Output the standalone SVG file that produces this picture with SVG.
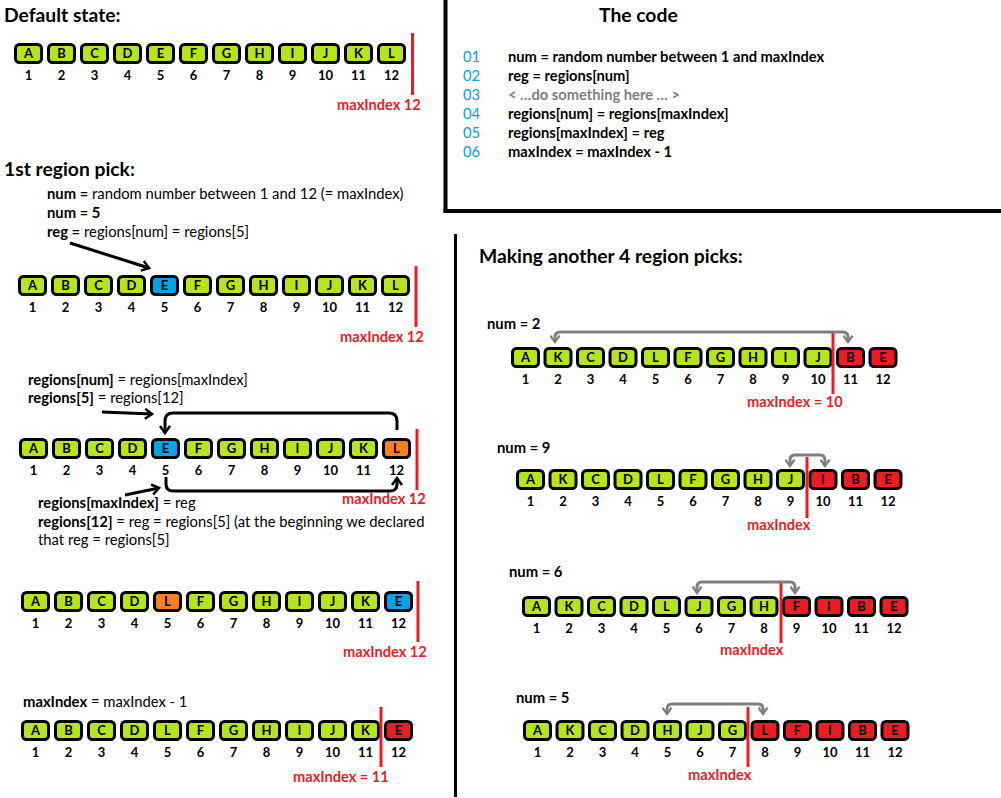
<svg xmlns="http://www.w3.org/2000/svg" width="1001" height="798" viewBox="0 0 1001 798">
<style>
text{font-family:Lato,"Liberation Sans",sans-serif;}
.h{font-size:19.3px;font-weight:bold;fill:#000}
.t{font-size:14.8px;fill:#000}
.b{font-weight:bold}
.cn{font-size:14.7px;fill:#00a2e8}
.cd{font-size:14.7px;font-weight:bold;fill:#000}
.gr{fill:#7f7f7f}
.bx{stroke:#000;stroke-width:3}
.g{fill:#b5e61d}.bl{fill:#00a2e8}.o{fill:#ff7f27}.r{fill:#ed1c24}
.L{font-size:13px;font-weight:bold;text-anchor:middle;fill:#000}
.n{font-size:13px;font-weight:bold;text-anchor:middle;fill:#000}
.rl{stroke:#ed1c24;stroke-width:3}
.rt{font-size:14.6px;font-weight:bold;fill:#ed1c24}
.div{stroke:#000;stroke-width:4}
.ka{fill:none;stroke:#000;stroke-width:3}
.ga{fill:none;stroke:#7f7f7f;stroke-width:3}
</style>
<defs>
<marker id="mk" viewBox="0 0 12 12" refX="10" refY="6" markerWidth="12" markerHeight="12" markerUnits="userSpaceOnUse" orient="auto-start-reverse"><path d="M3,1 L10,6 L3,11" fill="none" stroke="#000" stroke-width="2.5"/></marker>
<marker id="mg" viewBox="0 0 12 12" refX="10" refY="6" markerWidth="11" markerHeight="11" markerUnits="userSpaceOnUse" orient="auto-start-reverse"><path d="M3,1 L10,6 L3,11" fill="none" stroke="#7f7f7f" stroke-width="2.5"/></marker>
</defs>
<rect width="1001" height="798" fill="#fff"/>

<g id="dividers">
<line class="div" x1="445.5" y1="0" x2="445.5" y2="213"/>
<line class="div" x1="443.5" y1="211" x2="1001" y2="211"/>
<line class="div" x1="455.5" y1="234" x2="455.5" y2="797" style="stroke-width:3"/>
</g>

<g id="headings">
<text class="h" x="4" y="22">Default state:</text>
<text class="h" x="4" y="176">1st region pick:</text>
<text class="h" x="599" y="22">The code</text>
<text class="h" x="479" y="263">Making another 4 region picks:</text>
</g>

<g id="code">
<text class="cn" x="463" y="62">01</text><text class="cd" x="508" y="62">num = random number between 1 and maxIndex</text>
<text class="cn" x="463" y="81">02</text><text class="cd" x="508" y="81">reg = regions[num]</text>
<text class="cn" x="463" y="100">03</text><text class="cd gr" x="508" y="100">&lt; …do something here … &gt;</text>
<text class="cn" x="463" y="119">04</text><text class="cd" x="508" y="119">regions[num] = regions[maxIndex]</text>
<text class="cn" x="463" y="138">05</text><text class="cd" x="508" y="138">regions[maxIndex] = reg</text>
<text class="cn" x="463" y="157">06</text><text class="cd" x="508" y="157">maxIndex = maxIndex - 1</text>
</g>

<g id="notes">
<text class="t" x="47" y="199"><tspan class="b">num =</tspan> random number between 1 and 12 (= maxIndex)</text>
<text class="t b" x="47" y="218">num = 5</text>
<text class="t" x="47" y="237"><tspan class="b">reg =</tspan> regions[num] = regions[5]</text>
<text class="t" x="28" y="385"><tspan class="b">regions[num]</tspan> = regions[maxIndex]</text>
<text class="t" x="28" y="403"><tspan class="b">regions[5]</tspan> = regions[12]</text>
<text class="t" x="38" y="508"><tspan class="b">regions[maxIndex]</tspan> = reg</text>
<text class="t" x="38" y="527"><tspan class="b">regions[12]</tspan> = reg = regions[5] (at the beginning we declared</text>
<text class="t" x="38" y="545">that reg = regions[5]</text>
<text class="t" x="23" y="707"><tspan class="b">maxIndex</tspan> = maxIndex - 1</text>
<text class="t b" x="487" y="329">num = 2</text>
<text class="t b" x="497" y="453">num = 9</text>
<text class="t b" x="509" y="577">num = 6</text>
<text class="t b" x="516" y="703">num = 5</text>
</g>

<g id="row-default" transform="translate(14,43)">
<rect class="bx g" x="1.5" y="1.5" width="26" height="18" rx="4"/><text class="L" x="14.5" y="15">A</text><text class="n" x="14.5" y="37">1</text>
<rect class="bx g" x="34.5" y="1.5" width="26" height="18" rx="4"/><text class="L" x="47.5" y="15">B</text><text class="n" x="47.5" y="37">2</text>
<rect class="bx g" x="67.5" y="1.5" width="26" height="18" rx="4"/><text class="L" x="80.5" y="15">C</text><text class="n" x="80.5" y="37">3</text>
<rect class="bx g" x="100.5" y="1.5" width="26" height="18" rx="4"/><text class="L" x="113.5" y="15">D</text><text class="n" x="113.5" y="37">4</text>
<rect class="bx g" x="133.5" y="1.5" width="26" height="18" rx="4"/><text class="L" x="146.5" y="15">E</text><text class="n" x="146.5" y="37">5</text>
<rect class="bx g" x="166.5" y="1.5" width="26" height="18" rx="4"/><text class="L" x="179.5" y="15">F</text><text class="n" x="179.5" y="37">6</text>
<rect class="bx g" x="199.5" y="1.5" width="26" height="18" rx="4"/><text class="L" x="212.5" y="15">G</text><text class="n" x="212.5" y="37">7</text>
<rect class="bx g" x="232.5" y="1.5" width="26" height="18" rx="4"/><text class="L" x="245.5" y="15">H</text><text class="n" x="245.5" y="37">8</text>
<rect class="bx g" x="265.5" y="1.5" width="26" height="18" rx="4"/><text class="L" x="278.5" y="15">I</text><text class="n" x="278.5" y="37">9</text>
<rect class="bx g" x="298.5" y="1.5" width="26" height="18" rx="4"/><text class="L" x="311.5" y="15">J</text><text class="n" x="311.5" y="37">10</text>
<rect class="bx g" x="331.5" y="1.5" width="26" height="18" rx="4"/><text class="L" x="344.5" y="15">K</text><text class="n" x="344.5" y="37">11</text>
<rect class="bx g" x="364.5" y="1.5" width="26" height="18" rx="4"/><text class="L" x="377.5" y="15">L</text><text class="n" x="377.5" y="37">12</text>
</g>

<g id="row-pick1" transform="translate(18,275)">
<rect class="bx g" x="1.5" y="1.5" width="26" height="18" rx="4"/><text class="L" x="14.5" y="15">A</text><text class="n" x="14.5" y="37">1</text>
<rect class="bx g" x="34.5" y="1.5" width="26" height="18" rx="4"/><text class="L" x="47.5" y="15">B</text><text class="n" x="47.5" y="37">2</text>
<rect class="bx g" x="67.5" y="1.5" width="26" height="18" rx="4"/><text class="L" x="80.5" y="15">C</text><text class="n" x="80.5" y="37">3</text>
<rect class="bx g" x="100.5" y="1.5" width="26" height="18" rx="4"/><text class="L" x="113.5" y="15">D</text><text class="n" x="113.5" y="37">4</text>
<rect class="bx bl" x="133.5" y="1.5" width="26" height="18" rx="4"/><text class="L" x="146.5" y="15">E</text><text class="n" x="146.5" y="37">5</text>
<rect class="bx g" x="166.5" y="1.5" width="26" height="18" rx="4"/><text class="L" x="179.5" y="15">F</text><text class="n" x="179.5" y="37">6</text>
<rect class="bx g" x="199.5" y="1.5" width="26" height="18" rx="4"/><text class="L" x="212.5" y="15">G</text><text class="n" x="212.5" y="37">7</text>
<rect class="bx g" x="232.5" y="1.5" width="26" height="18" rx="4"/><text class="L" x="245.5" y="15">H</text><text class="n" x="245.5" y="37">8</text>
<rect class="bx g" x="265.5" y="1.5" width="26" height="18" rx="4"/><text class="L" x="278.5" y="15">I</text><text class="n" x="278.5" y="37">9</text>
<rect class="bx g" x="298.5" y="1.5" width="26" height="18" rx="4"/><text class="L" x="311.5" y="15">J</text><text class="n" x="311.5" y="37">10</text>
<rect class="bx g" x="331.5" y="1.5" width="26" height="18" rx="4"/><text class="L" x="344.5" y="15">K</text><text class="n" x="344.5" y="37">11</text>
<rect class="bx g" x="364.5" y="1.5" width="26" height="18" rx="4"/><text class="L" x="377.5" y="15">L</text><text class="n" x="377.5" y="37">12</text>
</g>

<g id="row-swap" transform="translate(19,438)">
<rect class="bx g" x="1.5" y="1.5" width="26" height="18" rx="4"/><text class="L" x="14.5" y="15">A</text><text class="n" x="14.5" y="37">1</text>
<rect class="bx g" x="34.5" y="1.5" width="26" height="18" rx="4"/><text class="L" x="47.5" y="15">B</text><text class="n" x="47.5" y="37">2</text>
<rect class="bx g" x="67.5" y="1.5" width="26" height="18" rx="4"/><text class="L" x="80.5" y="15">C</text><text class="n" x="80.5" y="37">3</text>
<rect class="bx g" x="100.5" y="1.5" width="26" height="18" rx="4"/><text class="L" x="113.5" y="15">D</text><text class="n" x="113.5" y="37">4</text>
<rect class="bx bl" x="133.5" y="1.5" width="26" height="18" rx="4"/><text class="L" x="146.5" y="15">E</text><text class="n" x="146.5" y="37">5</text>
<rect class="bx g" x="166.5" y="1.5" width="26" height="18" rx="4"/><text class="L" x="179.5" y="15">F</text><text class="n" x="179.5" y="37">6</text>
<rect class="bx g" x="199.5" y="1.5" width="26" height="18" rx="4"/><text class="L" x="212.5" y="15">G</text><text class="n" x="212.5" y="37">7</text>
<rect class="bx g" x="232.5" y="1.5" width="26" height="18" rx="4"/><text class="L" x="245.5" y="15">H</text><text class="n" x="245.5" y="37">8</text>
<rect class="bx g" x="265.5" y="1.5" width="26" height="18" rx="4"/><text class="L" x="278.5" y="15">I</text><text class="n" x="278.5" y="37">9</text>
<rect class="bx g" x="298.5" y="1.5" width="26" height="18" rx="4"/><text class="L" x="311.5" y="15">J</text><text class="n" x="311.5" y="37">10</text>
<rect class="bx g" x="331.5" y="1.5" width="26" height="18" rx="4"/><text class="L" x="344.5" y="15">K</text><text class="n" x="344.5" y="37">11</text>
<rect class="bx o" x="364.5" y="1.5" width="26" height="18" rx="4"/><text class="L" x="377.5" y="15">L</text><text class="n" x="377.5" y="37">12</text>
</g>

<g id="row-swapped" transform="translate(21,591)">
<rect class="bx g" x="1.5" y="1.5" width="26" height="18" rx="4"/><text class="L" x="14.5" y="15">A</text><text class="n" x="14.5" y="37">1</text>
<rect class="bx g" x="34.5" y="1.5" width="26" height="18" rx="4"/><text class="L" x="47.5" y="15">B</text><text class="n" x="47.5" y="37">2</text>
<rect class="bx g" x="67.5" y="1.5" width="26" height="18" rx="4"/><text class="L" x="80.5" y="15">C</text><text class="n" x="80.5" y="37">3</text>
<rect class="bx g" x="100.5" y="1.5" width="26" height="18" rx="4"/><text class="L" x="113.5" y="15">D</text><text class="n" x="113.5" y="37">4</text>
<rect class="bx o" x="133.5" y="1.5" width="26" height="18" rx="4"/><text class="L" x="146.5" y="15">L</text><text class="n" x="146.5" y="37">5</text>
<rect class="bx g" x="166.5" y="1.5" width="26" height="18" rx="4"/><text class="L" x="179.5" y="15">F</text><text class="n" x="179.5" y="37">6</text>
<rect class="bx g" x="199.5" y="1.5" width="26" height="18" rx="4"/><text class="L" x="212.5" y="15">G</text><text class="n" x="212.5" y="37">7</text>
<rect class="bx g" x="232.5" y="1.5" width="26" height="18" rx="4"/><text class="L" x="245.5" y="15">H</text><text class="n" x="245.5" y="37">8</text>
<rect class="bx g" x="265.5" y="1.5" width="26" height="18" rx="4"/><text class="L" x="278.5" y="15">I</text><text class="n" x="278.5" y="37">9</text>
<rect class="bx g" x="298.5" y="1.5" width="26" height="18" rx="4"/><text class="L" x="311.5" y="15">J</text><text class="n" x="311.5" y="37">10</text>
<rect class="bx g" x="331.5" y="1.5" width="26" height="18" rx="4"/><text class="L" x="344.5" y="15">K</text><text class="n" x="344.5" y="37">11</text>
<rect class="bx bl" x="364.5" y="1.5" width="26" height="18" rx="4"/><text class="L" x="377.5" y="15">E</text><text class="n" x="377.5" y="37">12</text>
</g>

<g id="row-decrement" transform="translate(21,720)">
<rect class="bx g" x="1.5" y="1.5" width="26" height="18" rx="4"/><text class="L" x="14.5" y="15">A</text><text class="n" x="14.5" y="37">1</text>
<rect class="bx g" x="34.5" y="1.5" width="26" height="18" rx="4"/><text class="L" x="47.5" y="15">B</text><text class="n" x="47.5" y="37">2</text>
<rect class="bx g" x="67.5" y="1.5" width="26" height="18" rx="4"/><text class="L" x="80.5" y="15">C</text><text class="n" x="80.5" y="37">3</text>
<rect class="bx g" x="100.5" y="1.5" width="26" height="18" rx="4"/><text class="L" x="113.5" y="15">D</text><text class="n" x="113.5" y="37">4</text>
<rect class="bx g" x="133.5" y="1.5" width="26" height="18" rx="4"/><text class="L" x="146.5" y="15">L</text><text class="n" x="146.5" y="37">5</text>
<rect class="bx g" x="166.5" y="1.5" width="26" height="18" rx="4"/><text class="L" x="179.5" y="15">F</text><text class="n" x="179.5" y="37">6</text>
<rect class="bx g" x="199.5" y="1.5" width="26" height="18" rx="4"/><text class="L" x="212.5" y="15">G</text><text class="n" x="212.5" y="37">7</text>
<rect class="bx g" x="232.5" y="1.5" width="26" height="18" rx="4"/><text class="L" x="245.5" y="15">H</text><text class="n" x="245.5" y="37">8</text>
<rect class="bx g" x="265.5" y="1.5" width="26" height="18" rx="4"/><text class="L" x="278.5" y="15">I</text><text class="n" x="278.5" y="37">9</text>
<rect class="bx g" x="298.5" y="1.5" width="26" height="18" rx="4"/><text class="L" x="311.5" y="15">J</text><text class="n" x="311.5" y="37">10</text>
<rect class="bx g" x="331.5" y="1.5" width="26" height="18" rx="4"/><text class="L" x="344.5" y="15">K</text><text class="n" x="344.5" y="37">11</text>
<rect class="bx r" x="364.5" y="1.5" width="26" height="18" rx="4"/><text class="L" x="377.5" y="15">E</text><text class="n" x="377.5" y="37">12</text>
</g>

<g id="row-pick2" transform="translate(511,347)">
<rect class="bx g" x="1.5" y="1.5" width="26" height="18" rx="4"/><text class="L" x="14.5" y="15">A</text><text class="n" x="14.5" y="37">1</text>
<rect class="bx g" x="34" y="1.5" width="26" height="18" rx="4"/><text class="L" x="47" y="15">K</text><text class="n" x="47" y="37">2</text>
<rect class="bx g" x="66.5" y="1.5" width="26" height="18" rx="4"/><text class="L" x="79.5" y="15">C</text><text class="n" x="79.5" y="37">3</text>
<rect class="bx g" x="99" y="1.5" width="26" height="18" rx="4"/><text class="L" x="112" y="15">D</text><text class="n" x="112" y="37">4</text>
<rect class="bx g" x="131.5" y="1.5" width="26" height="18" rx="4"/><text class="L" x="144.5" y="15">L</text><text class="n" x="144.5" y="37">5</text>
<rect class="bx g" x="164" y="1.5" width="26" height="18" rx="4"/><text class="L" x="177" y="15">F</text><text class="n" x="177" y="37">6</text>
<rect class="bx g" x="196.5" y="1.5" width="26" height="18" rx="4"/><text class="L" x="209.5" y="15">G</text><text class="n" x="209.5" y="37">7</text>
<rect class="bx g" x="229" y="1.5" width="26" height="18" rx="4"/><text class="L" x="242" y="15">H</text><text class="n" x="242" y="37">8</text>
<rect class="bx g" x="261.5" y="1.5" width="26" height="18" rx="4"/><text class="L" x="274.5" y="15">I</text><text class="n" x="274.5" y="37">9</text>
<rect class="bx g" x="294" y="1.5" width="26" height="18" rx="4"/><text class="L" x="307" y="15">J</text><text class="n" x="307" y="37">10</text>
<rect class="bx r" x="326.5" y="1.5" width="26" height="18" rx="4"/><text class="L" x="339.5" y="15">B</text><text class="n" x="339.5" y="37">11</text>
<rect class="bx r" x="359" y="1.5" width="26" height="18" rx="4"/><text class="L" x="372" y="15">E</text><text class="n" x="372" y="37">12</text>
</g>

<g id="row-pick3" transform="translate(516,469)">
<rect class="bx g" x="1.5" y="1.5" width="26" height="18" rx="4"/><text class="L" x="14.5" y="15">A</text><text class="n" x="14.5" y="37">1</text>
<rect class="bx g" x="34" y="1.5" width="26" height="18" rx="4"/><text class="L" x="47" y="15">K</text><text class="n" x="47" y="37">2</text>
<rect class="bx g" x="66.5" y="1.5" width="26" height="18" rx="4"/><text class="L" x="79.5" y="15">C</text><text class="n" x="79.5" y="37">3</text>
<rect class="bx g" x="99" y="1.5" width="26" height="18" rx="4"/><text class="L" x="112" y="15">D</text><text class="n" x="112" y="37">4</text>
<rect class="bx g" x="131.5" y="1.5" width="26" height="18" rx="4"/><text class="L" x="144.5" y="15">L</text><text class="n" x="144.5" y="37">5</text>
<rect class="bx g" x="164" y="1.5" width="26" height="18" rx="4"/><text class="L" x="177" y="15">F</text><text class="n" x="177" y="37">6</text>
<rect class="bx g" x="196.5" y="1.5" width="26" height="18" rx="4"/><text class="L" x="209.5" y="15">G</text><text class="n" x="209.5" y="37">7</text>
<rect class="bx g" x="229" y="1.5" width="26" height="18" rx="4"/><text class="L" x="242" y="15">H</text><text class="n" x="242" y="37">8</text>
<rect class="bx g" x="261.5" y="1.5" width="26" height="18" rx="4"/><text class="L" x="274.5" y="15">J</text><text class="n" x="274.5" y="37">9</text>
<rect class="bx r" x="294" y="1.5" width="26" height="18" rx="4"/><text class="L" x="307" y="15">I</text><text class="n" x="307" y="37">10</text>
<rect class="bx r" x="326.5" y="1.5" width="26" height="18" rx="4"/><text class="L" x="339.5" y="15">B</text><text class="n" x="339.5" y="37">11</text>
<rect class="bx r" x="359" y="1.5" width="26" height="18" rx="4"/><text class="L" x="372" y="15">E</text><text class="n" x="372" y="37">12</text>
</g>

<g id="row-pick4" transform="translate(522,596)">
<rect class="bx g" x="1.5" y="1.5" width="26" height="18" rx="4"/><text class="L" x="14.5" y="15">A</text><text class="n" x="14.5" y="37">1</text>
<rect class="bx g" x="34" y="1.5" width="26" height="18" rx="4"/><text class="L" x="47" y="15">K</text><text class="n" x="47" y="37">2</text>
<rect class="bx g" x="66.5" y="1.5" width="26" height="18" rx="4"/><text class="L" x="79.5" y="15">C</text><text class="n" x="79.5" y="37">3</text>
<rect class="bx g" x="99" y="1.5" width="26" height="18" rx="4"/><text class="L" x="112" y="15">D</text><text class="n" x="112" y="37">4</text>
<rect class="bx g" x="131.5" y="1.5" width="26" height="18" rx="4"/><text class="L" x="144.5" y="15">L</text><text class="n" x="144.5" y="37">5</text>
<rect class="bx g" x="164" y="1.5" width="26" height="18" rx="4"/><text class="L" x="177" y="15">J</text><text class="n" x="177" y="37">6</text>
<rect class="bx g" x="196.5" y="1.5" width="26" height="18" rx="4"/><text class="L" x="209.5" y="15">G</text><text class="n" x="209.5" y="37">7</text>
<rect class="bx g" x="229" y="1.5" width="26" height="18" rx="4"/><text class="L" x="242" y="15">H</text><text class="n" x="242" y="37">8</text>
<rect class="bx r" x="261.5" y="1.5" width="26" height="18" rx="4"/><text class="L" x="274.5" y="15">F</text><text class="n" x="274.5" y="37">9</text>
<rect class="bx r" x="294" y="1.5" width="26" height="18" rx="4"/><text class="L" x="307" y="15">I</text><text class="n" x="307" y="37">10</text>
<rect class="bx r" x="326.5" y="1.5" width="26" height="18" rx="4"/><text class="L" x="339.5" y="15">B</text><text class="n" x="339.5" y="37">11</text>
<rect class="bx r" x="359" y="1.5" width="26" height="18" rx="4"/><text class="L" x="372" y="15">E</text><text class="n" x="372" y="37">12</text>
</g>

<g id="row-pick5" transform="translate(523,720)">
<rect class="bx g" x="1.5" y="1.5" width="26" height="18" rx="4"/><text class="L" x="14.5" y="15">A</text><text class="n" x="14.5" y="37">1</text>
<rect class="bx g" x="34" y="1.5" width="26" height="18" rx="4"/><text class="L" x="47" y="15">K</text><text class="n" x="47" y="37">2</text>
<rect class="bx g" x="66.5" y="1.5" width="26" height="18" rx="4"/><text class="L" x="79.5" y="15">C</text><text class="n" x="79.5" y="37">3</text>
<rect class="bx g" x="99" y="1.5" width="26" height="18" rx="4"/><text class="L" x="112" y="15">D</text><text class="n" x="112" y="37">4</text>
<rect class="bx g" x="131.5" y="1.5" width="26" height="18" rx="4"/><text class="L" x="144.5" y="15">H</text><text class="n" x="144.5" y="37">5</text>
<rect class="bx g" x="164" y="1.5" width="26" height="18" rx="4"/><text class="L" x="177" y="15">J</text><text class="n" x="177" y="37">6</text>
<rect class="bx g" x="196.5" y="1.5" width="26" height="18" rx="4"/><text class="L" x="209.5" y="15">G</text><text class="n" x="209.5" y="37">7</text>
<rect class="bx r" x="229" y="1.5" width="26" height="18" rx="4"/><text class="L" x="242" y="15">L</text><text class="n" x="242" y="37">8</text>
<rect class="bx r" x="261.5" y="1.5" width="26" height="18" rx="4"/><text class="L" x="274.5" y="15">F</text><text class="n" x="274.5" y="37">9</text>
<rect class="bx r" x="294" y="1.5" width="26" height="18" rx="4"/><text class="L" x="307" y="15">I</text><text class="n" x="307" y="37">10</text>
<rect class="bx r" x="326.5" y="1.5" width="26" height="18" rx="4"/><text class="L" x="339.5" y="15">B</text><text class="n" x="339.5" y="37">11</text>
<rect class="bx r" x="359" y="1.5" width="26" height="18" rx="4"/><text class="L" x="372" y="15">E</text><text class="n" x="372" y="37">12</text>
</g>

<g id="maxindex-markers">
<line class="rl" x1="412.5" y1="33" x2="412.5" y2="95"/><text class="rt" x="337" y="110">maxIndex 12</text>
<line class="rl" x1="416" y1="266" x2="416" y2="327"/><text class="rt" x="340" y="342">maxIndex 12</text>
<line class="rl" x1="417" y1="429" x2="417" y2="490"/><text class="rt" x="342" y="504">maxIndex 12</text>
<line class="rl" x1="418" y1="581" x2="418" y2="642"/><text class="rt" x="343" y="657">maxIndex 12</text>
<line class="rl" x1="381" y1="707" x2="381" y2="767"/><text class="rt" x="293" y="782">maxIndex = 11</text>
<line class="rl" x1="833" y1="333" x2="833" y2="394"/><text class="rt" x="747" y="407">maxIndex = 10</text>
<line class="rl" x1="807" y1="457" x2="807" y2="518"/><text class="rt" x="747" y="530">maxIndex</text>
<line class="rl" x1="781" y1="582" x2="781" y2="643"/><text class="rt" x="720" y="655">maxIndex</text>
<line class="rl" x1="748" y1="707" x2="748" y2="767"/><text class="rt" x="688" y="780">maxIndex</text>
</g>

<g id="connectors">
<line class="ka" x1="70" y1="243" x2="149" y2="268" marker-end="url(#mk)"/>
<line class="ka" x1="102" y1="412" x2="152" y2="414" marker-end="url(#mk)"/>
<path class="ka" d="M397,430 V421 Q397,413 389,413 H173 Q165,413 165,421 V433" marker-end="url(#mk)"/>
<path class="ka" d="M166,477 V484 Q166,491 173,491 H390 Q397,491 397,484 V478" marker-end="url(#mk)"/>
<line class="ka" x1="125" y1="495" x2="159" y2="488" marker-end="url(#mk)"/>
<path class="ga" d="M555,342 V337 Q555,332 560,332 H843 Q848,332 848,337 V342" marker-start="url(#mg)" marker-end="url(#mg)"/>
<path class="ga" d="M790,466 V460 Q790,455 795,455 H820 Q825,455 825,460 V466" marker-start="url(#mg)" marker-end="url(#mg)"/>
<path class="ga" d="M697,593 V587 Q697,582 702,582 H790 Q795,582 795,587 V593" marker-start="url(#mg)" marker-end="url(#mg)"/>
<path class="ga" d="M667,714 V709 Q667,704 672,704 H758 Q763,704 763,709 V714" marker-start="url(#mg)" marker-end="url(#mg)"/>
</g>
</svg>
